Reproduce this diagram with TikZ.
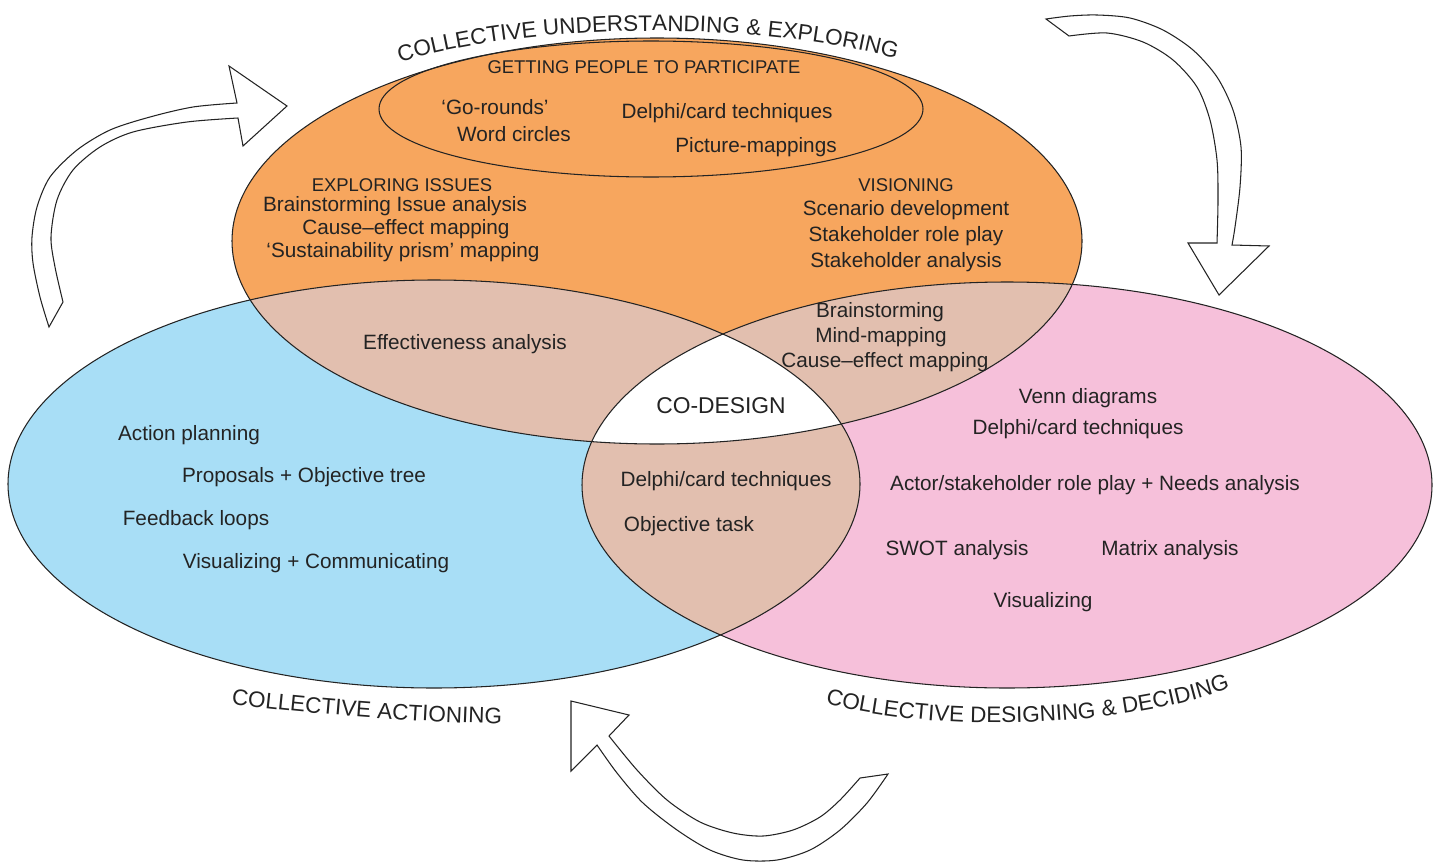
\documentclass[tikz,border=0pt]{standalone}
\usepackage{fontspec}
\setmainfont{Liberation Sans}
\usetikzlibrary{decorations.text}
\definecolor{setOrange}{RGB}{247,166,94}
\definecolor{setBlue}{RGB}{168,222,246}
\definecolor{setPink}{RGB}{246,192,218}
\definecolor{overlapTan}{RGB}{226,191,175}
\definecolor{inkGrey}{RGB}{35,35,35}
\newcommand\arcfont{\fontsize{12.8}{15}\selectfont}

\begin{document}
\begin{tikzpicture}[x=0.02cm, y=-0.02cm, line width=0.6pt,
    item/.style={font=\fontsize{11.8}{14}\selectfont, text=inkGrey},
    head/.style={font=\fontsize{10.5}{12}\selectfont, text=inkGrey},
    cycleArrow/.style={draw=inkGrey, fill=white, line join=miter},
    arcLabel/.style={decorate, decoration={text along path, text align=center, text color=inkGrey}}]
        \useasboundingbox (0,0) rectangle (1435,865);
        % the three sets
        \fill[setOrange] (657,241) ellipse [x radius=425, y radius=203];
        \fill[setBlue] (434,484) ellipse [x radius=426, y radius=204];
        \fill[setPink] (1007,485) ellipse [x radius=425, y radius=203];
        % overlaps
        \begin{scope}
          \clip (657,241) ellipse [x radius=425, y radius=203];
          \fill[overlapTan] (434,484) ellipse [x radius=426, y radius=204];
          \fill[overlapTan] (1007,485) ellipse [x radius=425, y radius=203];
        \end{scope}
        \begin{scope}
          \clip (434,484) ellipse [x radius=426, y radius=204];
          \fill[overlapTan] (1007,485) ellipse [x radius=425, y radius=203];
          \clip (657,241) ellipse [x radius=425, y radius=203];
          \fill[white] (1007,485) ellipse [x radius=425, y radius=203];
        \end{scope}
        \draw[inkGrey] (657,241) ellipse [x radius=425, y radius=203];
        \draw[inkGrey] (434,484) ellipse [x radius=426, y radius=204];
        \draw[inkGrey] (1007,485) ellipse [x radius=425, y radius=203];
        \draw[inkGrey] (651,109) ellipse [x radius=272, y radius=68];

        % cycle arrows
        \draw[cycleArrow] plot[smooth] coordinates {(49,327) (40,297) (33,263) (32,237) (37,207) (50,177) (77,150) (110,130) (150,117) (193,107) (237,103)}
          -- (229,66) -- (287,106) -- (243,146) -- (238,118)
          -- plot[smooth] coordinates {(238,118) (187,122) (133,132) (100,147) (73,170) (57,200) (51,237) (55,267) (63,302)} -- cycle;
        \draw[cycleArrow] plot[smooth] coordinates {(1046,19) (1070,16) (1097,15) (1130,18) (1163,30) (1193,50) (1217,77) (1233,110) (1241,147) (1240,187) (1235,227) (1232,245)}
          -- (1269,246) -- (1219,295) -- (1188,243) -- (1217,243)
          -- plot[smooth] coordinates {(1217,243) (1218,200) (1217,160) (1210,120) (1197,87) (1173,60) (1143,42) (1107,33) (1069,36)} -- cycle;
        \draw[cycleArrow] plot[smooth] coordinates {(888,774) (867,803) (840,830) (810,850) (777,860) (743,860) (710,850) (677,830) (643,803) (617,773) (597,745)}
          -- (571,771) -- (571,701) -- (629,715) -- (609,736)
          -- plot[smooth] coordinates {(609,736) (637,770) (667,800) (700,822) (733,833) (763,836) (793,830) (820,817) (840,800) (860,778)} -- cycle;

        % curved set labels
        \path[arcLabel, decoration={text={|\arcfont|COLLECTIVE UNDERSTANDING {\&} EXPLORING}}]
          (388,66) .. controls (525,20) and (770,20) .. (908,62);
        \path[arcLabel, decoration={text={|\arcfont|COLLECTIVE ACTIONING}}]
          (230,704) .. controls (330,716) and (420,722) .. (503,724);
        \path[arcLabel, decoration={text={|\arcfont|COLLECTIVE DESIGNING {\&} DECIDING}}]
          (813,700) .. controls (930,735) and (1125,730) .. (1242,684);

        % understanding & exploring
        \node[head] (participate) at (644,67) {GETTING PEOPLE TO PARTICIPATE};
        \node[item] (gorounds) at (495,107) {‘Go-rounds’};
        \node[item] (wordcircles) at (514,134) {Word circles};
        \node[item] (delphiTop) at (727,113) {Delphi/card techniques};
        \node[item] (picture) at (756,147) {Picture-mappings};
        \node[head] (exploring) at (402,185) {EXPLORING ISSUES};
        \node[item] (brainIssue) at (395,206) {Brainstorming Issue analysis};
        \node[item] (causeTop) at (406,229) {Cause–effect mapping};
        \node[item] (prism) at (403,252) {‘Sustainability prism’ mapping};
        \node[head] (visioning) at (906,185) {VISIONING};
        \node[item] (scenario) at (906,210) {Scenario development};
        \node[item] (roleplay) at (906,236) {Stakeholder role play};
        \node[item] (stakeholder) at (906,262) {Stakeholder analysis};
        % overlaps
        \node[item] (brainstorm) at (880,312) {Brainstorming};
        \node[item] (mindmap) at (881,337) {Mind-mapping};
        \node[item] (causeMid) at (885,362) {Cause–effect mapping};
        \node[item] (effective) at (465,344) {Effectiveness analysis};
        \node[font=\fontsize{13}{15}\selectfont, text=inkGrey] (codesign) at (721,406) {CO-DESIGN};
        \node[item] (delphiLow) at (726,481) {Delphi/card techniques};
        \node[item] (objtask) at (689,526) {Objective task};
        % actioning
        \node[item] (action) at (189,435) {Action planning};
        \node[item] (proposals) at (304,477) {Proposals + Objective tree};
        \node[item] (feedback) at (196,520) {Feedback loops};
        \node[item] (communicate) at (316,563) {Visualizing + Communicating};
        % designing & deciding
        \node[item] (venn) at (1088,398) {Venn diagrams};
        \node[item] (delphiRight) at (1078,429) {Delphi/card techniques};
        \node[item] (actor) at (1095,485) {Actor/stakeholder role play + Needs analysis};
        \node[item] (swot) at (957,550) {SWOT analysis};
        \node[item] (matrix) at (1170,550) {Matrix analysis};
        \node[item] (visualizing) at (1043,602) {Visualizing};
      \end{tikzpicture}
\end{document}
